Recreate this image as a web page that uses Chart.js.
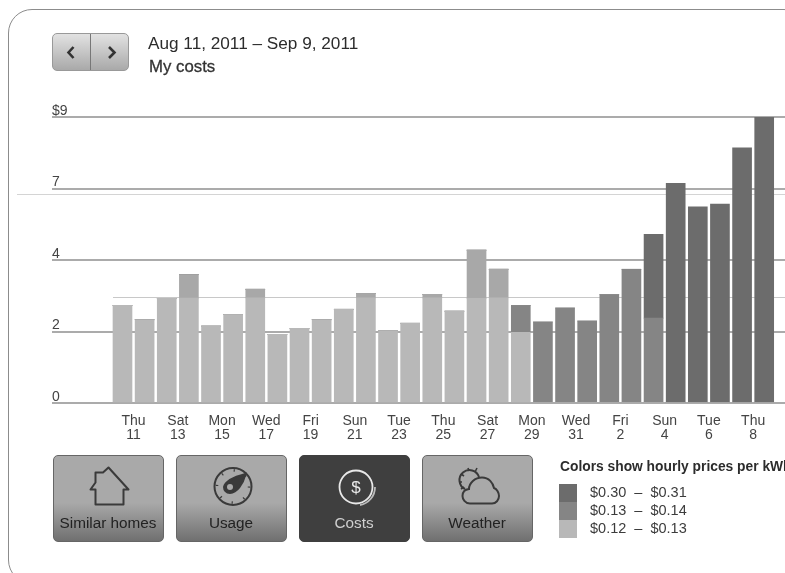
<!DOCTYPE html>
<html>
<head>
<meta charset="utf-8">
<title>My costs</title>
<script src="https://cdn.jsdelivr.net/npm/chart.js@4"></script>
<style>
html, body { margin: 0; padding: 0; background: #fff; }
body { width: 785px; height: 573px; overflow: hidden; position: relative; font-family: "Liberation Sans", Arial, sans-serif; color: #333; }
#card { position: absolute; left: 8px; top: 9px; width: 800px; height: 575px; border: 1.5px solid #8c8c8c; border-radius: 24px; box-sizing: border-box; }
#real-chart { position: absolute; left: 0; top: 0; }
.abs { position: absolute; white-space: nowrap; }
#pager { left: 52px; top: 33px; width: 77px; height: 38px; border: 1px solid #999; border-radius: 5px; box-sizing: border-box; background: linear-gradient(#e2e2e2, #a9a9a9); }
#pager i { position: absolute; left: 37px; top: 0; bottom: 0; border-left: 1.5px solid #777; }
.btn { top: 454.5px; width: 111px; height: 87px; border: 1px solid #666; border-radius: 5px; box-sizing: border-box; background: linear-gradient(#a9a9a9 0, #a9a9a9 55%, #707070 100%); font-size: 15.3px; color: #222; text-align: center; }
.btn span { position: absolute; left: 0; right: 0; top: 58px; }
.btn svg { position: absolute; left: 0; top: 0; }
.btn.on { background: #3f3f3f; border-color: #3f3f3f; color: #d0d0d0; }
.swatch { left: 559px; width: 18px; height: 18px; }
.range { left: 590px; font-size: 14.5px; color: #3c3c3c; white-space: pre; }
</style>
</head>
<body>
<div id="card"></div>
<canvas id="real-chart" width="785" height="573"></canvas>

<div class="abs" id="pager"><i></i>
  <svg width="77" height="38" style="position:absolute;left:-1px;top:-1px" fill="none" stroke="#333" stroke-width="2.6">
    <path d="M21.5 14 L16.5 19.5 L21.5 25"/><path d="M57 14 L62.5 19.5 L57 25"/>
  </svg>
</div>
<div class="abs" style="left:148px;top:33px;font-size:17.2px;color:#2c2c2c">Aug 11, 2011 – Sep 9, 2011</div>
<div class="abs" style="left:149px;top:57px;font-size:16.8px;color:#333;-webkit-text-stroke:0.3px #333">My costs</div>

<div class="abs btn" style="left:52.5px">
  <svg width="110" height="60" fill="none" stroke="#3a3a3a" stroke-width="2">
    <path d="M54.5 11.5 L74.5 33.5 H69.5 V48.5 H41.5 V33.5 H36.5 L41.5 26.5 V16.5 H49 Z" stroke-linejoin="round"/>
  </svg>
  <span>Similar homes</span>
</div>
<div class="abs btn" style="left:175.5px">
  <svg width="110" height="60" fill="none" stroke="#3a3a3a" stroke-width="2">
    <circle cx="56" cy="30.5" r="18.5"/>
    <circle cx="56" cy="30.5" r="16" stroke-width="2.5" stroke-dasharray="1.2 11.4"/>
    <path d="M47 31 C48 26 57 21 68.5 18 C66 28 60 37 53 37 C49 37 47 34 47 31 Z" fill="#3a3a3a"/>
    <circle cx="53" cy="31" r="3" fill="#a9a9a9" stroke="none"/>
  </svg>
  <span>Usage</span>
</div>
<div class="abs btn on" style="left:298.5px">
  <svg width="110" height="60" fill="none" stroke="#e8e8e8" stroke-width="1.8">
    <circle cx="56" cy="31" r="16.5"/>
    <path d="M60 49 A18 18 0 0 0 75 31" stroke="#bbb"/>
    <text x="56" y="37" font-size="17" fill="#e8e8e8" stroke="none" text-anchor="middle" font-family="Liberation Sans">$</text>
  </svg>
  <span>Costs</span>
</div>
<div class="abs btn" style="left:421.5px">
  <svg width="110" height="60" fill="none" stroke="#3a3a3a" stroke-width="2">
    <path d="M47 47.5 C42 47.5 39.5 43 39.5 40 C39.5 36 42 33.5 46 33 C46 27 52 21.5 59 21.5 C66 21.5 70 27 71 32 C74 33 76 37 76 40 C76 44 73 47.5 69 47.5 Z"/>
    <path d="M42 33 A10 10 0 1 1 56 21"/>
    <path d="M36 26 H39 M38 18 L41 20 M45 12 L46 15 M54 12 L52.5 15 M38 33 L41 31" stroke-width="1.6"/>
  </svg>
  <span>Weather</span>
</div>

<div class="abs" style="left:560px;top:459px;font-size:13.8px;font-weight:bold;color:#2c2c2c" id="legend-title">Colors show hourly prices per kWh</div>
<div id="legend"></div>

<script>
const dayLabels = [
    ['Thu', '11'], ['Sat', '13'], ['Mon', '15'], ['Wed', '17'], ['Fri', '19'],
    ['Sun', '21'], ['Tue', '23'], ['Thu', '25'], ['Sat', '27'], ['Mon', '29'],
    ['Wed', '31'], ['Fri', '2'], ['Sun', '4'], ['Tue', '6'], ['Thu', '8'],
];
const yTickValues = [0, 2.25, 4.5, 6.75, 9];
const yTickLabels = ['0', '2', '4', '7', '$9'];
const faintLines = [6.58, 3.335];
const legendRanges = ['$0.30  –  $0.31', '$0.13  –  $0.14', '$0.12  –  $0.13'];

// one value per day, Aug 11 to Sep 9, dollars in each price tier
const lowCost = [3.07, 2.62, 3.29, 3.30, 2.42, 2.78, 3.31, 2.16, 2.35, 2.62, 2.95, 3.31, 2.27, 2.51, 3.31,
    2.89, 3.29, 3.31, 2.22, 0, 0, 0, 0, 0, 0, 0, 0, 0, 0, 0];
const lowTopCost = [0, 0, 0, 0.74, 0, 0, 0.27, 0, 0, 0, 0, 0.14, 0, 0, 0.11,
    0, 1.52, 0.90, 0, 0, 0, 0, 0, 0, 0, 0, 0, 0, 0, 0];
const midCost = [0, 0, 0, 0, 0, 0, 0, 0, 0, 0, 0, 0, 0, 0, 0,
    0, 0, 0, 0.85, 2.55, 2.99, 2.58, 3.41, 4.21, 2.67, 0, 0, 0, 0, 0];
const highCost = [0, 0, 0, 0, 0, 0, 0, 0, 0, 0, 0, 0, 0, 0, 0,
    0, 0, 0, 0, 0, 0, 0, 0, 0, 2.64, 6.91, 6.17, 6.26, 8.03, 9.0];

const colorHigh = '#6c6c6c';
const colorMid = '#858585';
const colorLow = '#b8b8b8';
const colorLowTop = '#a8a8a8';
const legendColors = [colorHigh, colorMid, colorLow];

legendRanges.forEach(function (text, i) {
    const swatch = document.createElement('div');
    swatch.className = 'abs swatch';
    swatch.style.top = (484 + i * 18) + 'px';
    swatch.style.background = legendColors[i];
    const label = document.createElement('div');
    label.className = 'abs range';
    label.style.top = (484 + i * 18) + 'px';
    label.textContent = text;
    document.getElementById('legend').append(swatch, label);
});

function dataset(values, color) {
    return {
        data: values.map((v, i) => ({ x: i, y: v })),
        backgroundColor: color,
        barThickness: 19,
    };
}

// thin lines that sit behind the bars, not tied to any tick
const faintLinePlugin = {
    id: 'faintLines',
    beforeDatasetsDraw(chart) {
        const ctx = chart.ctx;
        const y = chart.scales.y;
        ctx.save();
        ctx.lineWidth = 1;
        faintLines.forEach(function (v, i) {
            ctx.strokeStyle = i === 0 ? '#d4d4d4' : '#c8c8c8';
            ctx.beginPath();
            ctx.moveTo(i === 0 ? 17 : 113, Math.round(y.getPixelForValue(v)) + 0.5);
            ctx.lineTo(785, Math.round(y.getPixelForValue(v)) + 0.5);
            ctx.stroke();
        });
        ctx.restore();
    },
};

Chart.defaults.font.family = '"Liberation Sans", Arial, sans-serif';

new Chart(document.getElementById('real-chart').getContext('2d'), {
    type: 'bar',
    data: {
        datasets: [
            dataset(lowCost, colorLow),
            dataset(lowTopCost, colorLowTop),
            dataset(midCost, colorMid),
            dataset(highCost, colorHigh),
        ],
    },
    plugins: [faintLinePlugin],
    options: {
        responsive: false,
        animation: false,
        layout: { padding: { left: 52, top: 117, right: 0, bottom: 110 } },
        plugins: { legend: { display: false }, tooltip: { enabled: false } },
        scales: {
            x: {
                type: 'linear',
                stacked: true,
                offset: false,
                min: -3.186,
                max: 29.94,
                afterBuildTicks(scale) {
                    scale.ticks = dayLabels.map((d, i) => ({ value: i * 2 + 0.5 }));
                },
                afterFit(scale) { scale.height = 60; },
                grid: { display: false },
                border: { display: false },
                ticks: {
                    autoSkip: false,
                    maxRotation: 0,
                    padding: 3,
                    color: '#444',
                    font: { size: 14, lineHeight: 1 },
                    callback(value, index) { return dayLabels[index]; },
                },
            },
            y: {
                stacked: true,
                min: 0,
                max: 9,
                afterBuildTicks(scale) {
                    scale.ticks = yTickValues.map(v => ({ value: v }));
                },
                afterFit(scale) { scale.width = 0; },
                grid: { color: '#ababab', lineWidth: 2, drawTicks: false },
                border: { display: false },
                ticks: {
                    mirror: true,
                    padding: 0,
                    labelOffset: -6,
                    color: '#444',
                    font: { size: 14 },
                    callback(value, index) { return yTickLabels[index]; },
                },
            },
        },
    },
});
</script>
</body>
</html>
